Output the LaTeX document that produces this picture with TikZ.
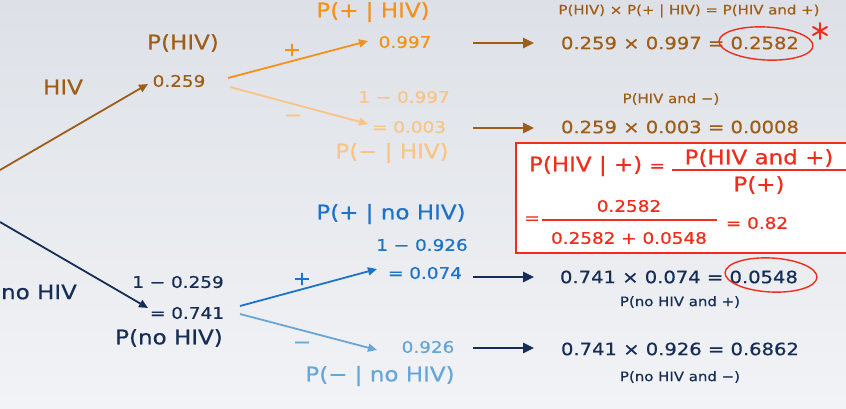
\documentclass[tikz,border=0pt]{standalone}
\usepackage{fontspec}
\setmainfont{DejaVu Sans}[FakeStretch=1.15,FakeBold=0.6]
\usetikzlibrary{arrows.meta}
\definecolor{brn}{RGB}{158,94,24}
\definecolor{org}{RGB}{245,145,25}
\definecolor{lorg}{RGB}{250,196,135}
\definecolor{navy}{RGB}{22,46,86}
\definecolor{blu}{RGB}{28,115,200}
\definecolor{lblu}{RGB}{104,166,214}
\definecolor{redc}{RGB}{240,45,28}
\definecolor{bgtop}{RGB}{221,225,231}
\definecolor{bgbot}{RGB}{242,243,246}
\tikzset{
  every node/.style={inner sep=0pt},
  lbl/.style={font=\fontsize{20}{22}\selectfont},
  num/.style={font=\fontsize{16}{18}\selectfont},
  eqn/.style={font=\fontsize{17}{19}\selectfont},
  sml/.style={font=\fontsize{13}{15}\selectfont},
  sgn/.style={font=\fontsize{19}{21}\selectfont},
  branch/.style={line width=1.8pt,-{Triangle[length=9pt,width=8pt]}},
  shortarr/.style={line width=2.6pt,-{Triangle[length=11pt,width=10pt]}},
}
\begin{document}
\begin{tikzpicture}[x=1pt,y=-1pt]
\useasboundingbox (0,0) rectangle (846,409);
\shade[top color=bgtop,bottom color=bgbot] (0,0) rectangle (846,409);

% ---------- HIV branch ----------
\node[lbl,text=brn] (hivlbl) at (63,87) {HIV};
\node[lbl,text=brn] (phiv) at (183,43) {P(HIV)};
\node[num,text=brn] (n0259) at (179,81) {0.259};
\coordinate (root1) at (0,170);
\coordinate (tip1) at (148,84);
\draw[brn,branch] (root1) -- (tip1);

\node[sgn,text=org] (plus1) at (292,50) {+};
\node[sgn,text=lorg] (minus1) at (293,118) {−};
\node[lbl,text=org] (pplushiv) at (373,12) {P(+ | HIV)};
\node[num,text=org] (n0997) at (405,42) {0.997};
\node[num,text=lorg] (oneminus1) at (404,97) {1 − 0.997};
\node[num,text=lorg] (n0003) at (409,127) {= 0.003};
\node[lbl,text=lorg] (pminushiv) at (392,153) {P(− | HIV)};

\coordinate (s1) at (228,78);
\coordinate (e1) at (368,41);
\draw[org,branch] (s1) -- (e1);
\coordinate (s2) at (230,87);
\coordinate (e2) at (368,124);
\draw[lorg,branch] (s2) -- (e2);

\coordinate (a1s) at (473,43);
\coordinate (a1e) at (534,43);
\draw[brn,shortarr] (a1s) -- (a1e);
\coordinate (a2s) at (473,128);
\coordinate (a2e) at (534,128);
\draw[brn,shortarr] (a2s) -- (a2e);

\node[sml,text=brn] (lab1) at (689,11) {P(HIV) × P(+ | HIV) = P(HIV and +)};
\node[eqn,text=brn] (eq1) at (680,43) {0.259 × 0.997 = 0.2582};
\node[sml,text=brn] (lab2) at (671,99) {P(HIV and −)};
\node[eqn,text=brn] (eq2) at (680,127) {0.259 × 0.003 = 0.0008};

\draw[redc,line width=1.4pt,rotate around={-3:(766,43.5)}] (766,43.5) ellipse [x radius=47pt, y radius=16.5pt];
\draw[redc,line width=2pt,line cap=round] (820,23) -- (820,39);
\draw[redc,line width=2pt,line cap=round] (813,27) -- (827,35);
\draw[redc,line width=2pt,line cap=round] (813,35) -- (827,27);

% ---------- Bayes box ----------
\draw[redc,line width=1.3pt,fill=white] (516,143) rectangle (852,253);
\node[lbl,text=redc] (bl) at (597,166) {P(HIV | +) \fontsize{16}{18}\selectfont =};
\node[lbl,text=redc] (bnum) at (759,158) {P(HIV and +)};
\draw[redc,line width=1.3pt] (672,170) -- (852,170);
\node[lbl,text=redc] (bden) at (759,185) {P(+)};
\node[num,text=redc] (beq) at (532,220) {=};
\node[num,text=redc] (bnum2) at (629,206) {0.2582};
\draw[redc,line width=1.3pt] (542,220) -- (717,220);
\node[num,text=redc] (bden2) at (629,238) {0.2582 + 0.0548};
\node[num,text=redc] (bres) at (757,223) {= 0.82};

% ---------- no HIV branch ----------
\node[lbl,text=navy] (nohivlbl) at (39,292) {no HIV};
\node[num,text=navy] (oneminus0) at (178,282) {1 − 0.259};
\node[num,text=navy] (n0741) at (187,313) {= 0.741};
\node[lbl,text=navy] (pnohiv) at (169,338) {P(no HIV)};
\coordinate (root2) at (0,222);
\coordinate (tip2) at (148,308);
\draw[navy,branch] (root2) -- (tip2);

\node[sgn,text=blu] (plus2) at (302,279) {+};
\node[sgn,text=lblu] (minus2) at (302,345) {−};
\node[lbl,text=blu] (pplusno) at (391,214) {P(+ | no HIV)};
\node[num,text=blu] (oneminus2) at (422,245) {1 − 0.926};
\node[num,text=blu] (n0074) at (425,273) {= 0.074};
\node[num,text=lblu] (n0926) at (428,347) {0.926};
\node[lbl,text=lblu] (pminusno) at (380,376) {P(− | no HIV)};

\coordinate (s3) at (240,306);
\coordinate (e3) at (377,269);
\draw[blu,branch] (s3) -- (e3);
\coordinate (s4) at (240,314);
\coordinate (e4) at (377,350);
\draw[lblu,branch] (s4) -- (e4);

\coordinate (a3s) at (473,277);
\coordinate (a3e) at (534,277);
\draw[navy,shortarr] (a3s) -- (a3e);
\coordinate (a4s) at (473,348);
\coordinate (a4e) at (534,348);
\draw[navy,shortarr] (a4s) -- (a4e);

\node[eqn,text=navy] (eq3) at (679,277) {0.741 × 0.074 = 0.0548};
\node[sml,text=navy] (lab3) at (680,302) {P(no HIV and +)};
\node[eqn,text=navy] (eq4) at (680,349) {0.741 × 0.926 = 0.6862};
\node[sml,text=navy] (lab4) at (680,377) {P(no HIV and −)};

\draw[redc,line width=1.4pt,rotate around={-3:(771,275)}] (771,275) ellipse [x radius=46pt, y radius=17pt];
\end{tikzpicture}
\end{document}
